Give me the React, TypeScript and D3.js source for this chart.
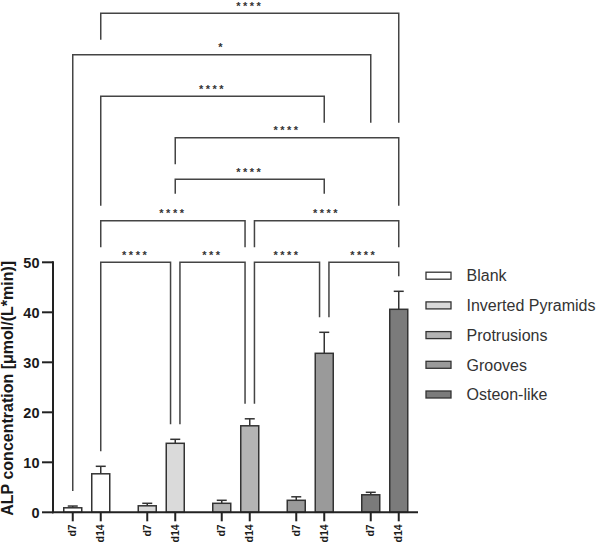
import React from "react";
import * as d3 from "d3";

const width = 600;
const height = 543;

const groups = ["Blank", "Inverted Pyramids", "Protrusions", "Grooves", "Osteon-like"];
const days = ["d7", "d14"];
const meanD7 = [0.9, 1.3, 1.8, 2.4, 3.5];
const meanD14 = [7.7, 13.8, 17.3, 31.8, 40.6];
const sdD7 = [0.35, 0.5, 0.6, 0.7, 0.5];
const sdD14 = [1.5, 0.8, 1.4, 4.2, 3.6];
const fills = ["#ffffff", "#dadada", "#b4b4b4", "#9a9a9a", "#7b7b7b"];
const yTicks = [0, 10, 20, 30, 40, 50];

// significance brackets: group index + day at each end, stacked by level
const comparisons = [
  { g1: 0, d1: "d14", g2: 1, d2: "d14", label: "****", level: 0 },
  { g1: 1, d1: "d14", g2: 2, d2: "d14", label: "***", level: 0 },
  { g1: 2, d1: "d14", g2: 3, d2: "d14", label: "****", level: 0 },
  { g1: 3, d1: "d14", g2: 4, d2: "d14", label: "****", level: 0 },
  { g1: 0, d1: "d14", g2: 2, d2: "d14", label: "****", level: 1 },
  { g1: 2, d1: "d14", g2: 4, d2: "d14", label: "****", level: 1 },
  { g1: 1, d1: "d14", g2: 3, d2: "d14", label: "****", level: 2 },
  { g1: 1, d1: "d14", g2: 4, d2: "d14", label: "****", level: 3 },
  { g1: 0, d1: "d14", g2: 3, d2: "d14", label: "****", level: 4 },
  { g1: 0, d1: "d7", g2: 4, d2: "d7", label: "*", level: 5 },
  { g1: 0, d1: "d14", g2: 4, d2: "d14", label: "****", level: 6 },
];
const bracketBase = 50;
const bracketStep = 8.3;

const x0 = d3.scaleBand<number>().domain(d3.range(groups.length)).range([49.5, 422]);
const x1 = d3.scaleBand<string>().domain(days).range([-23, 23]).paddingInner(0.357);
const y = d3.scaleLinear().domain([0, 50]).range([512.3, 262.3]);

const barX = (g: number, d: string) => x0(g)! + x0.bandwidth() / 2 + x1(d)! + x1.bandwidth() / 2;
const mean = (g: number, d: string) => (d === "d7" ? meanD7[g] : meanD14[g]);
const sd = (g: number, d: string) => (d === "d7" ? sdD7[g] : sdD14[g]);

const App = () => {
  const axisColor = "#222";
  const gap = 15;

  // leg x positions (offset when a bar is shared by two brackets on one level)
  const br = comparisons.map((c) => {
    const sharedL = comparisons.some(
      (o) => o !== c && o.level === c.level && o.g2 === c.g1 && o.d2 === c.d1
    );
    const sharedR = comparisons.some(
      (o) => o !== c && o.level === c.level && o.g1 === c.g2 && o.d1 === c.d2
    );
    const xa = barX(c.g1, c.d1) + (sharedL ? 4.7 : 0);
    const xb = barX(c.g2, c.d2) - (sharedR ? 4.7 : 0);
    const hy = y(bracketBase + c.level * bracketStep);
    return { ...c, xa, xb, hy };
  });

  // a leg stops short of whatever lies below it (lower bracket, its stars, or the error bar)
  const legEnd = (b: any, x: number, g: number, d: string) => {
    const below = br
      .filter((o) => o.level < b.level && x >= o.xa - 0.5 && x <= o.xb + 0.5)
      .sort((p, q) => q.level - p.level)[0];
    if (!below) return y(mean(g, d) + sd(g, d)) - gap;
    const mid = (below.xa + below.xb) / 2;
    const half = (below.label.length * 7) / 2;
    if (Math.abs(x - mid) <= half) return below.hy - 12 - gap;
    return below.hy - gap;
  };

  const bars = groups.flatMap((_, g) => days.map((d) => ({ g, d })));

  return (
    <svg
      width={width}
      height={height}
      style={{ position: "absolute", left: 0, top: 0, background: "#fff" }}
      fontFamily="Arial, 'Liberation Sans', sans-serif"
    >
      {/* bars */}
      {bars.map(({ g, d }, i) => {
        const cx = barX(g, d);
        const top = y(mean(g, d));
        const et = y(mean(g, d) + sd(g, d));
        return (
          <g key={i}>
            <line x1={cx} x2={cx} y1={top} y2={et} stroke="#333" strokeWidth={1.5} />
            <line x1={cx - 5} x2={cx + 5} y1={et} y2={et} stroke="#333" strokeWidth={1.5} />
            <rect
              x={cx - x1.bandwidth() / 2}
              y={top}
              width={x1.bandwidth()}
              height={y(0) - top}
              fill={fills[g]}
              stroke="#333"
              strokeWidth={1.5}
            />
          </g>
        );
      })}

      {/* y axis */}
      <line x1={53} x2={53} y1={y(0) + 1} y2={y(50) - 1} stroke={axisColor} strokeWidth={2} />
      {yTicks.map((t) => (
        <g key={t}>
          <line x1={42} x2={53} y1={y(t)} y2={y(t)} stroke={axisColor} strokeWidth={2} />
          <text
            x={39.5}
            y={y(t)}
            dy="0.36em"
            textAnchor="end"
            fontSize={14.5}
            fontWeight="bold"
            fill="#1a1a1a"
          >
            {t}
          </text>
        </g>
      ))}
      <text
        transform={`translate(13.3,${(y(0) + y(50)) / 2 + 1}) rotate(-90)`}
        textAnchor="middle"
        fontSize={16}
        fontWeight="bold"
        fill="#1a1a1a"
      >
        ALP concentration [μmol/(L*min)]
      </text>

      {/* x axis */}
      <line x1={52} x2={418} y1={y(0)} y2={y(0)} stroke={axisColor} strokeWidth={2} />
      {bars.map(({ g, d }, i) => {
        const cx = barX(g, d);
        return (
          <g key={i}>
            <line x1={cx} x2={cx} y1={y(0)} y2={y(0) + 9} stroke={axisColor} strokeWidth={2} />
            <text
              transform={`translate(${cx},${y(0) + 12}) rotate(-90)`}
              dy="0.35em"
              textAnchor="end"
              fontSize={10.5}
              fontWeight="bold"
              fill="#1a1a1a"
            >
              {d}
            </text>
          </g>
        );
      })}

      {/* brackets */}
      {br.map((b, i) => {
        const ya = legEnd(b, b.xa, b.g1, b.d1);
        const yb = legEnd(b, b.xb, b.g2, b.d2);
        return (
          <g key={i}>
            <path
              d={`M${b.xa},${ya}V${b.hy}H${b.xb}V${yb}`}
              fill="none"
              stroke="#444"
              strokeWidth={1.5}
            />
            <text
              x={(b.xa + b.xb) / 2}
              y={b.hy - 3.5}
              textAnchor="middle"
              fontSize={11}
              fontWeight="bold"
              letterSpacing={2.5}
              fill="#333"
            >
              {b.label}
            </text>
          </g>
        );
      })}

      {/* legend */}
      {groups.map((name, i) => {
        const ly = 275.7 + i * 29.7;
        return (
          <g key={name}>
            <rect x={426} y={ly - 3.5} width={25} height={7} fill={fills[i]} stroke="#333" strokeWidth={1.3} />
            <text x={466.5} y={ly} dy="0.36em" fontSize={16} fill="#333">
              {name}
            </text>
          </g>
        );
      })}
    </svg>
  );
};

export default App;
